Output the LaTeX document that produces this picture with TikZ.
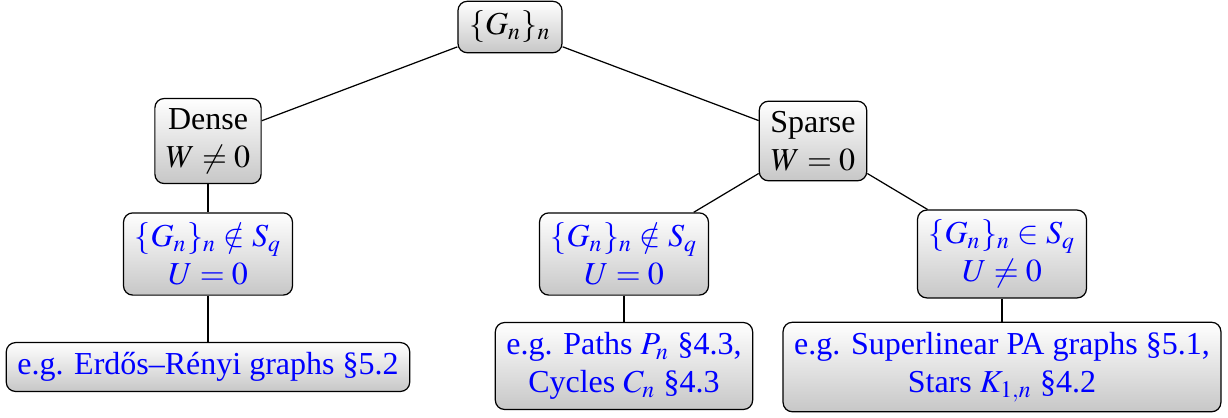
\documentclass[tikz,border=0pt]{standalone}
\usepackage{mathptmx}
\usepackage[no-math]{fontspec}
\setmainfont{Liberation Serif}

\tikzset{
  treebox/.style={draw=black, rounded corners=3pt, top color=white,
    bottom color=black!22, align=center, inner xsep=3.6pt, inner ysep=3.2pt,
    font=\fontsize{10.4}{12.4}\selectfont},
  bluebox/.style={treebox, text=blue}
}

\begin{document}
\begin{tikzpicture}[x=0.325pt, y=-0.325pt]
        \useasboundingbox (0,0) rectangle (1228,417);

        % Root
        \node[treebox] (root) at (510,27) {$\{G_n\}_n$};

        % Dense / sparse split
        \node[treebox] (dense) at (208,141) {Dense\\ $W \neq 0$};
        \node[treebox] (sparse) at (813,141) {Sparse\\ $W = 0$};

        % Membership in S_q
        \node[bluebox] (densenot) at (208,254) {$\{G_n\}_n \notin S_q$\\ $U = 0$};
        \node[bluebox] (sparsenot) at (624,254) {$\{G_n\}_n \notin S_q$\\ $U = 0$};
        \node[bluebox] (sparsein) at (1002,254) {$\{G_n\}_n \in S_q$\\ $U \neq 0$};

        % Examples
        \node[bluebox] (exer) at (208,367) {e.g. Erdős--Rényi graphs \S5.2};
        \node[bluebox] (expaths) at (624,366) {e.g. Paths $P_n$ \S4.3,\\ Cycles $C_n$ \S4.3};
        \node[bluebox] (exstars) at (1002,367) {e.g. Superlinear PA graphs \S5.1,\\ Stars $K_{1,n}$ \S4.2};

        % Edges
        \draw (root) -- (dense);
        \draw (root) -- (sparse);
        \draw (dense) -- (densenot);
        \draw (sparse) -- (sparsenot);
        \draw (sparse) -- (sparsein);
        \draw (densenot) -- (exer);
        \draw (sparsenot) -- (expaths);
        \draw (sparsein) -- (exstars);

    \end{tikzpicture}
\end{document}
